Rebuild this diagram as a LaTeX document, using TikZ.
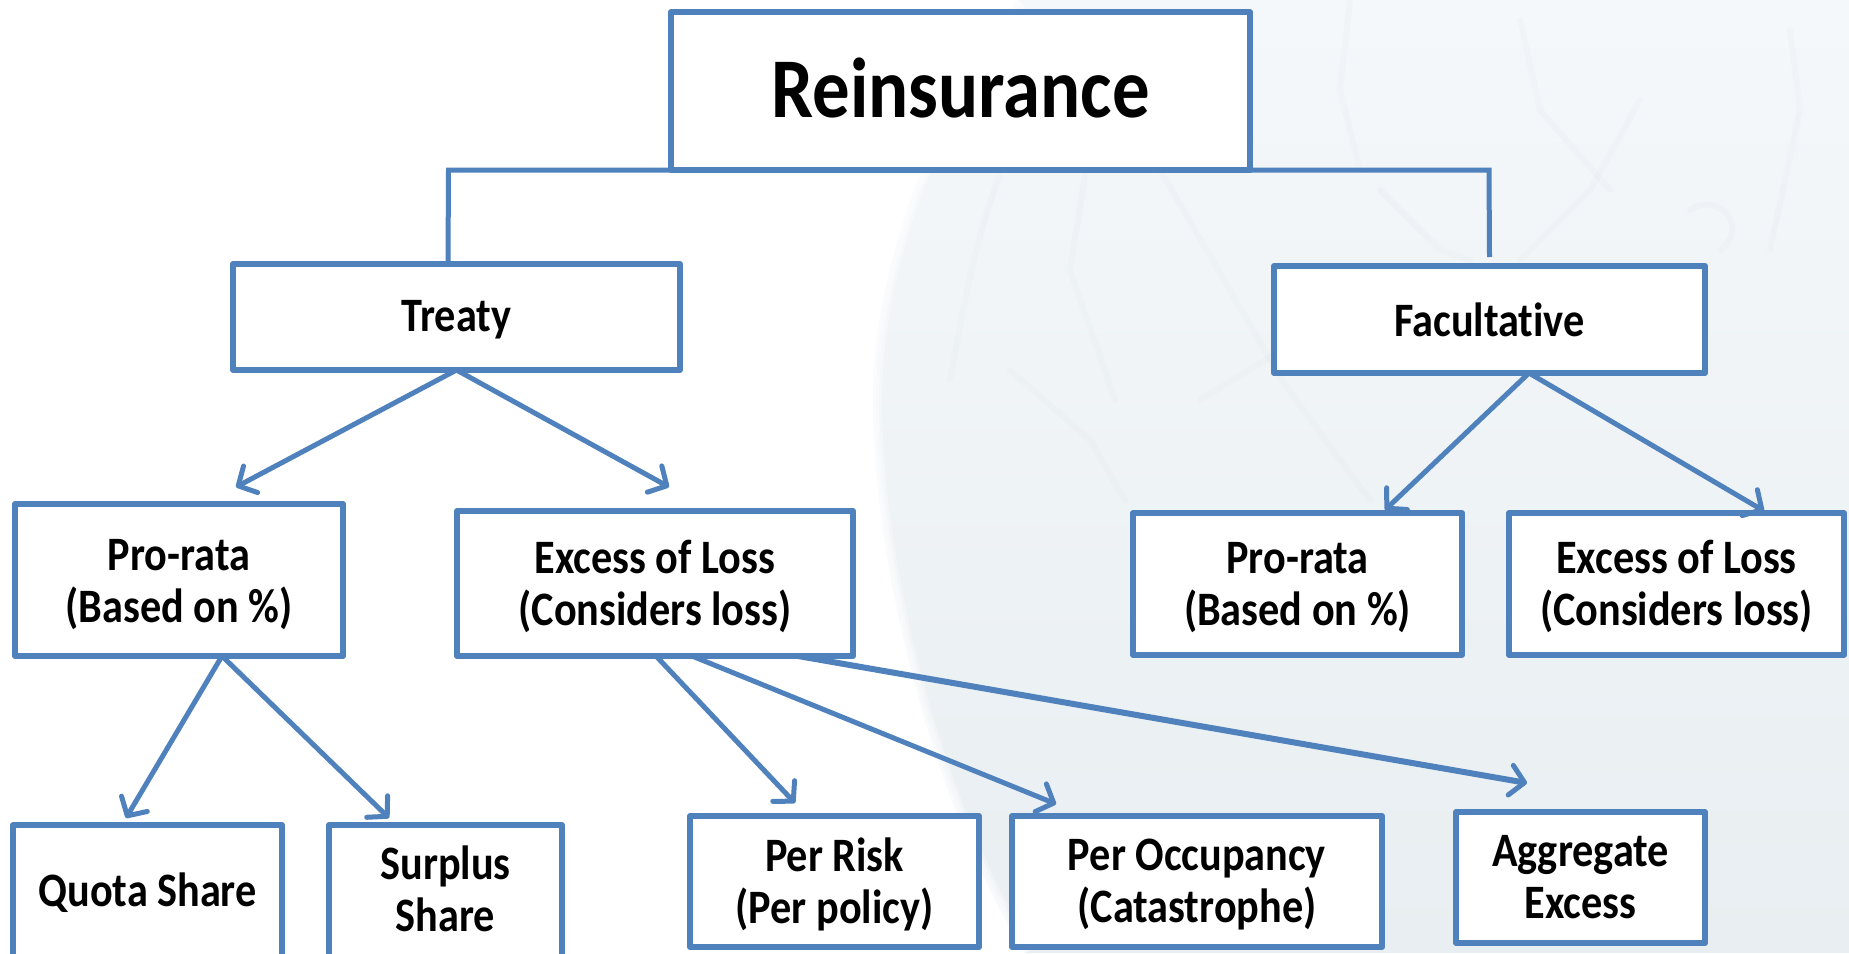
\documentclass[tikz,border=0pt]{standalone}
\usepackage{fontspec}
\setmainfont[FakeStretch=0.88,Ligatures=NoCommon,BoldFont={Carlito Bold},BoldFeatures={FakeStretch=0.88,Ligatures=NoCommon}]{Carlito}
\usetikzlibrary{arrows.meta}
\definecolor{boxblue}{HTML}{4F81BD}
\definecolor{globeA}{HTML}{F5F8FB}
\definecolor{globeM}{HTML}{F2F5F8}
\definecolor{globeB}{HTML}{E8EEF1}
\definecolor{grain}{HTML}{DDE3E8}
% set the text lower in its box: extra room above it, half of which moves the centre
\newcommand\lowered[2]{\vbox{\vskip #1\hbox{\begin{tabular}{@{}c@{}}#2\end{tabular}}}}
\newcommand\raised[2]{\vbox{\hbox{#2}\vskip #1}}
\tikzset{
  bx/.style={draw=boxblue,line width=6pt,fill=white,inner sep=0pt,outer sep=0pt,align=center,
    font=\fontsize{48}{52}\selectfont\bfseries,text=black,line join=round},
  link/.style={draw=boxblue,line width=5pt},
  arr/.style={link,-{Straight Barb[round,length=14pt,width=30pt,line width=5pt]}},
  grainline/.style={draw=grain,opacity=.16,line width=6pt,line cap=round,line join=round}
}
\begin{document}
\begin{tikzpicture}[x=1pt,y=-1pt]
\useasboundingbox (0,0) rectangle (1849,953);
\fill[white] (0,0) rectangle (1849,953);
\path[top color=globeA,middle color=globeM,bottom color=globeB]
  (1018,0) .. controls (950,80) and (873,250) .. (873,400)
  .. controls (873,560) and (930,800) .. (1025,953)
  -- (1849,953) -- (1849,0) -- cycle;
% soft rim of the globe
\foreach \w in {18,12,6}
  \draw[white,opacity=.35,line width=\w pt]
  (1018,0) .. controls (950,80) and (873,250) .. (873,400)
  .. controls (873,560) and (930,800) .. (1025,953);
% faint texture of the globe
\draw[grainline] (1160,170) -- (1285,385) -- (1370,500);
\draw[grainline] (1000,175) .. controls (975,240) and (965,300) .. (950,380);
\draw[grainline] (1085,175) -- (1070,270) -- (1115,400);
\draw[grainline] (1010,370) -- (1090,440) -- (1125,500);
\draw[grainline] (1200,400) -- (1290,345);
\draw[grainline] (1350,0) -- (1340,90) -- (1360,170);
\draw[grainline] (1520,20) -- (1540,110) -- (1610,190);
\draw[grainline] (1640,100) -- (1590,190) -- (1520,260);
\draw[grainline] (1790,30) -- (1800,110) -- (1770,250);
\draw[grainline] (1380,190) -- (1440,250) -- (1470,260);
\draw[grainline] (1690,210) .. controls (1720,190) and (1750,230) .. (1720,250);
% nodes
\node[bx,minimum width=579pt,minimum height=158pt,font=\fontsize{85}{94}\selectfont\bfseries] (root) at (960.5,91) {\raised{7pt}{Reinsurance}};
\node[bx,minimum width=447pt,minimum height=106pt] (treaty) at (456.5,317) {\lowered{8pt}{Treaty}};
\node[bx,minimum width=431pt,minimum height=107pt] (fac) at (1489.5,319.5) {Facultative};
\node[bx,minimum width=328pt,minimum height=152pt] (pl) at (179,580) {\lowered{12pt}{Pro-rata\\(Based on \%)}};
\node[bx,minimum width=396pt,minimum height=145pt] (el) at (655,583.5) {\lowered{12pt}{Excess of Loss\\(Considers loss)}};
\node[bx,minimum width=329pt,minimum height=142pt] (pr) at (1297.5,584) {\lowered{10pt}{Pro-rata\\(Based on \%)}};
\node[bx,minimum width=335pt,minimum height=142pt] (er) at (1676.5,584) {\lowered{10pt}{Excess of Loss\\(Considers loss)}};
\node[bx,minimum width=269pt,minimum height=135pt] (qs) at (147.5,892.5) {Quota Share};
\node[bx,minimum width=233pt,minimum height=135pt] (ss) at (445.5,892.5) {\lowered{6pt}{Surplus\\Share}};
\node[bx,minimum width=289pt,minimum height=131pt] (risk) at (834.5,881.5) {\lowered{12pt}{Per Risk\\(Per policy)}};
\node[bx,minimum width=370pt,minimum height=131pt] (occ) at (1197,881.5) {\lowered{10pt}{Per Occupancy\\(Catastrophe)}};
\node[bx,minimum width=249pt,minimum height=131pt] (agg) at (1580.5,877.5) {\lowered{10pt}{Aggregate\\Excess}};
% elbow connectors
\draw[link] ([xshift=-286pt]root.south) -- ([xshift=-512pt]root.south) -- ([xshift=-8.5pt,yshift=2pt]treaty.north);
\draw[link] (root.south east) -- ([xshift=528.5pt]root.south) -- ([yshift=9pt]fac.north);
% arrows
\draw[arr] (treaty.south) -- ([xshift=57pt,yshift=17pt]pl.north);
\draw[arr] (treaty.south) -- ([xshift=14pt,yshift=24pt]el.north);
\draw[arr] ([xshift=39.5pt]fac.south) -- ([xshift=87.5pt,yshift=3pt]pr.north);
\draw[arr] ([xshift=39.5pt]fac.south) -- ([xshift=87.5pt,yshift=2pt]er.north);
\draw[arr] ([xshift=43pt]pl.south) -- ([xshift=-21.5pt,yshift=7pt]qs.north);
\draw[arr] ([xshift=43pt]pl.south) -- ([xshift=-56.5pt,yshift=7pt]ss.north);
\draw[arr] ([xshift=1pt]el.south) -- ([xshift=-39.5pt,yshift=13pt]risk.north);
\draw[arr] ([xshift=37pt]el.south) -- ([xshift=-141pt,yshift=12pt]occ.north);
\draw[arr,line width=6pt] ([xshift=143pt]el.south) -- ([xshift=-53.5pt,yshift=29pt]agg.north);
\end{tikzpicture}
\end{document}
